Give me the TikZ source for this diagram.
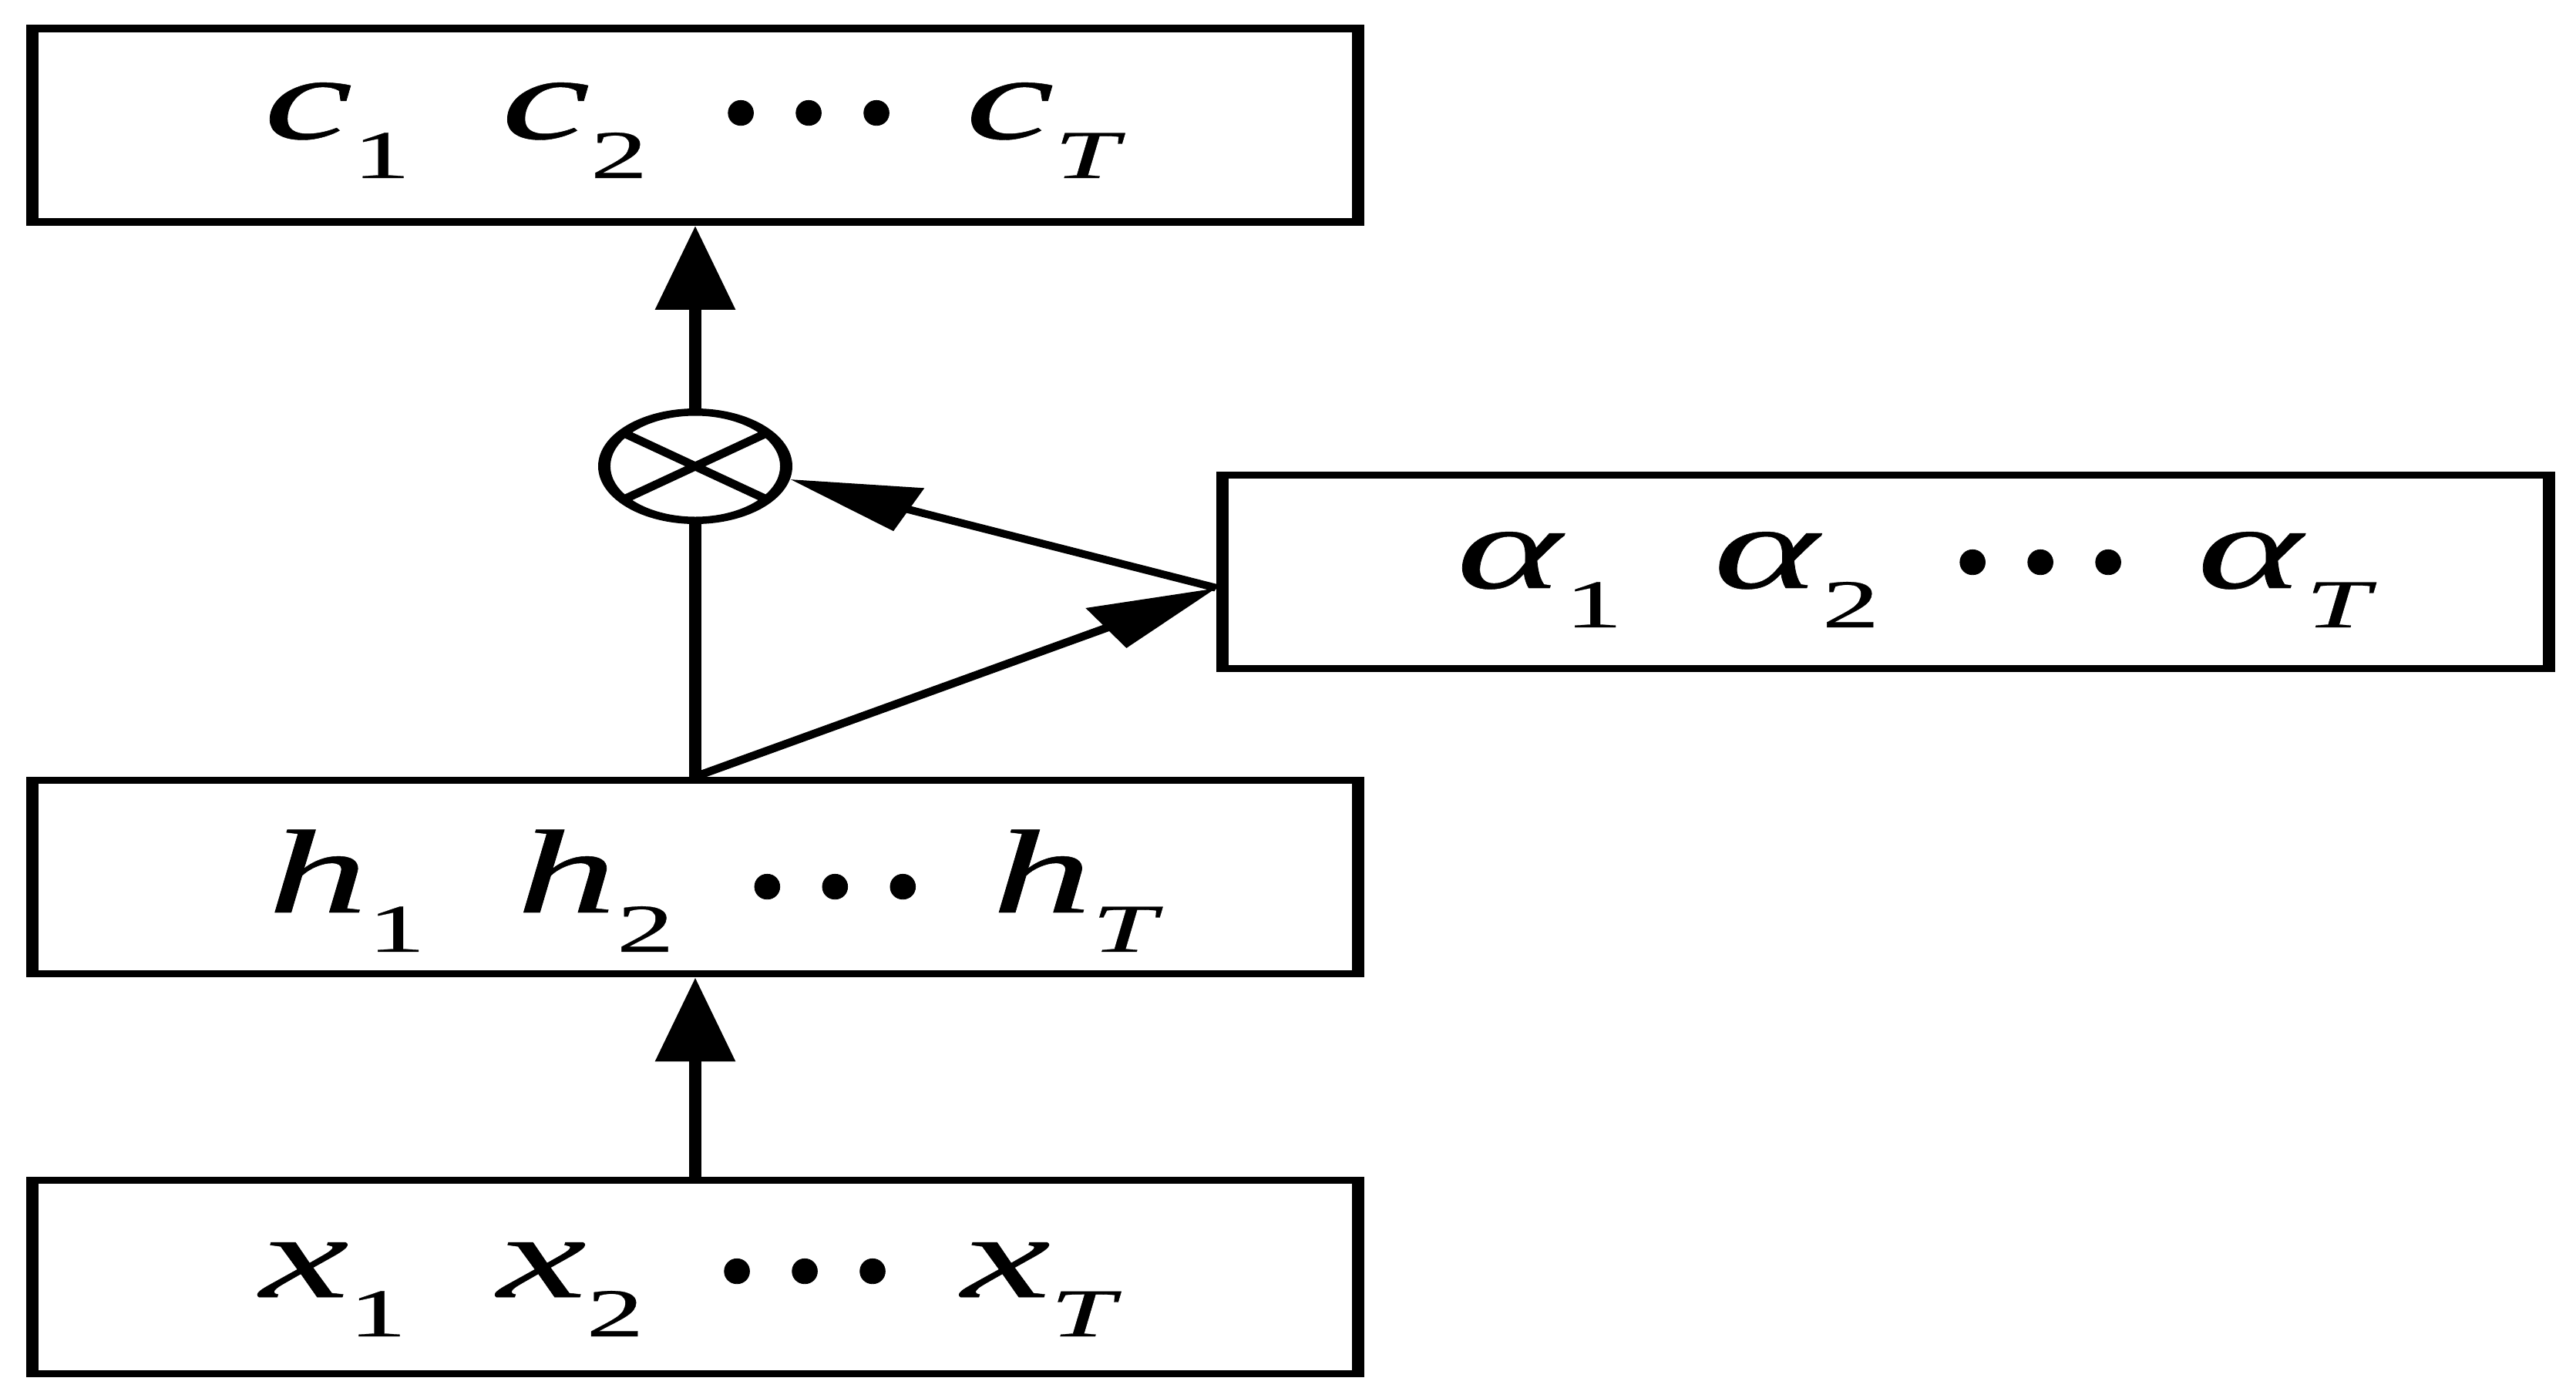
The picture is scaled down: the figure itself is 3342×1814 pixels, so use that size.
\documentclass[tikz,border=0pt]{standalone}
\usepackage{fontspec}
\usepackage{graphicx}
\setmainfont{Liberation Serif}[FakeBold=0.3]
\usetikzlibrary{arrows.meta,calc}
\newcommand\mainsz{\fontsize{44pt}{50pt}\selectfont}
\newcommand\subsz{\fontsize{25.3pt}{30pt}\selectfont}
\newcommand\dotsz{\fontsize{78pt}{78pt}\selectfont}
\newcommand\itm[2]{\textit{#1}\raisebox{-14.5pt}{\subsz #2}}
\newcommand\gapA{\hspace{20pt}}
\newcommand\onedot{\makebox[14.9pt][c]{\raisebox{-16.3pt}{\scalebox{0.6}[1]{\dotsz\textperiodcentered}}}}
\newcommand\mydots{\hspace{13pt}\onedot\onedot\onedot\hspace{12.1pt}}
\newcommand\rowtext[1]{\itm{#1}{1}\gapA\itm{#1}{2}\mydots\itm{#1}{\textit{T}}}
\begin{document}
\begin{tikzpicture}[x=0.1mm,y=-0.1mm,line width=0.95mm,
  box/.style={draw,rectangle,minimum width=102.4mm,minimum height=25.1mm,inner sep=0pt},
  lab/.style={inner sep=0pt,anchor=base west,font=\mainsz},
  mult/.style={draw,circle,minimum size=14.05mm,inner sep=0pt},
  tipv/.style={-{Triangle[length=10.9mm,width=5.95mm]}},
  tipd/.style={-{Triangle[length=10mm,width=5.8mm]}}]
\useasboundingbox (0,0) rectangle (3342,1814);
\begin{scope}[transform canvas={xscale=1.68}]
  \node[box] (c) at (536.9,162.5) {};
  \node[box] (al) at (1456.3,742) {};
  \node[box] (h) at (536.9,1138) {};
  \node[box] (x) at (536.9,1657) {};
  \node[mult] (o) at (536.9,605) {};
  \draw ($(o.center)+(142:70.25)$) -- ($(o.center)+(-38:70.25)$);
  \draw ($(o.center)+(38:70.25)$) -- ($(o.center)+(-142:70.25)$);
  \node[lab] (ct) at (199,180) {\rowtext{c}};
  \node[lab] (at) at (1120,763) {\rowtext{α}};
  \node[lab] (ht) at (202,1184) {\rowtext{h}};
  \node[lab] (xt) at (196,1683) {\rowtext{x}};
  \coordinate (m) at ($(al.west)+(0,21)$);
  \draw[tipv] (x.north) -- (h.south);
  \draw (h.north) -- (o.south);
  \draw[tipv] (o.north) -- (c.south);
  \draw[tipd] (h.north) -- (m);
  \draw[tipd] (m) -- (o.-13);
\end{scope}
\end{tikzpicture}
\end{document}
